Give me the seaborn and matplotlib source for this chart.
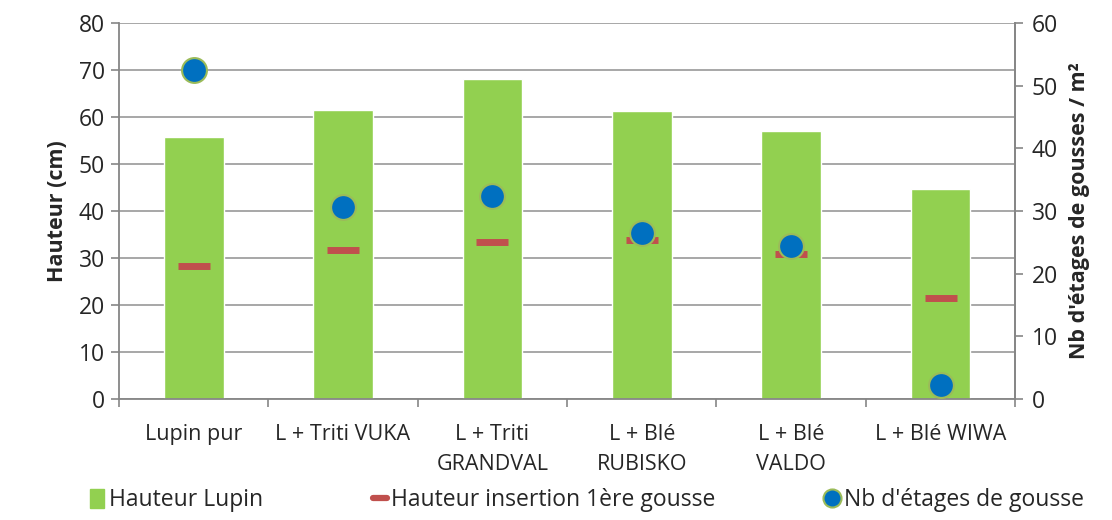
import matplotlib
matplotlib.use("Agg")
import matplotlib.pyplot as plt
import seaborn as sns
import pandas as pd
import numpy as np
from matplotlib.lines import Line2D
from matplotlib.patches import Patch

categories = ["Lupin pur", "L + Triti VUKA", "L + Triti\nGRANDVAL", "L + Blé\nRUBISKO", "L + Blé\nVALDO", "L + Blé WIWA"]
hauteur_lupin = [55.8, 61.4, 68.0, 61.2, 56.9, 44.7]
hauteur_insertion = [28.2, 31.7, 33.3, 33.9, 30.9, 21.4]
nb_etages = [52.5, 30.6, 32.4, 26.5, 24.4, 2.2]

df = pd.DataFrame({"cat": categories, "lupin": hauteur_lupin,
                   "insertion": hauteur_insertion, "etages": nb_etages})

sns.set_theme(style="white")
plt.rcParams['font.family'] = ['Open Sans', 'DejaVu Sans']

GREEN = "#92D050"
RED = "#C0504D"
BLUE = "#0070C0"
EDGE = "#9BBB59"
GRID = "#A0A0A0"
AX = "#868686"

fig = plt.figure(figsize=(11.12, 5.2), dpi=100)
ax = fig.add_axes([0.107, 0.233, 0.806, 0.723])

sns.barplot(data=df, x="cat", y="lupin", color=GREEN, width=0.4, ax=ax,
            saturation=1, zorder=2)
sns.scatterplot(data=df, x="cat", y="insertion", marker="_", s=530,
                linewidth=5, color=RED, ax=ax, zorder=3)

ax.set_ylim(0, 80)
ax.set_xlim(-0.5, 5.5)
ax.set_yticks(np.arange(0, 81, 10))
ax.yaxis.grid(True, color=GRID, linewidth=1.3, zorder=0)
ax.set_axisbelow(True)
ax.set_xlabel("")
ax.set_ylabel("Hauteur (cm)", fontsize=15.5, fontweight="bold", labelpad=8)
ax.spines["top"].set_visible(False)
for s in ["left", "bottom", "right"]:
    ax.spines[s].set_color(AX)
    ax.spines[s].set_linewidth(1.3)
ax.tick_params(axis="y", which="major", length=6, color=AX, width=1.2,
               labelsize=16.5, left=True, pad=4)
ax.set_xticks(range(6))
ax.set_xticklabels(categories, fontsize=15.5, linespacing=1.6)
ax.set_xticks(np.arange(-0.5, 6, 1), minor=True)
ax.tick_params(axis="x", which="major", length=0, pad=18)
ax.tick_params(axis="x", which="minor", length=6, color=AX, width=1.2, bottom=True)

ax2 = ax.twinx()
sns.scatterplot(data=df, x="cat", y="etages", s=320, color=BLUE,
                edgecolor=EDGE, linewidth=1.5, ax=ax2, zorder=4)
ax2.set_ylim(0, 60)
ax2.set_yticks(np.arange(0, 61, 10))
ax2.set_xlim(-0.5, 5.5)
ax2.set_ylabel("Nb d'étages de gousses / m²", fontsize=15.5, fontweight="bold",
               labelpad=8)
ax2.grid(False)
for s in ["top", "left", "bottom"]:
    ax2.spines[s].set_visible(False)
ax2.spines["right"].set_color(AX)
ax2.spines["right"].set_linewidth(1.3)
ax2.tick_params(axis="y", length=6, color=AX, width=1.2, labelsize=16.5, right=True, pad=6)

handles = [
    Patch(facecolor=GREEN, edgecolor=GREEN),
    Line2D([], [], color=RED, linewidth=4.5, marker=None),
    Line2D([], [], linestyle="none", marker="o", markersize=13,
           markerfacecolor=BLUE, markeredgecolor=EDGE, markeredgewidth=1.5),
]
labels = ["Hauteur Lupin", "Hauteur insertion 1ère gousse", "Nb d'étages de gousse"]
fig.legend(handles, labels, loc="lower center", bbox_to_anchor=(0.528, -0.025),
           ncol=3, frameon=False, fontsize=16.5, columnspacing=4.8,
           handlelength=0.6, handletextpad=0.2, handleheight=0.9)

fig.savefig("out.png", dpi=100)
